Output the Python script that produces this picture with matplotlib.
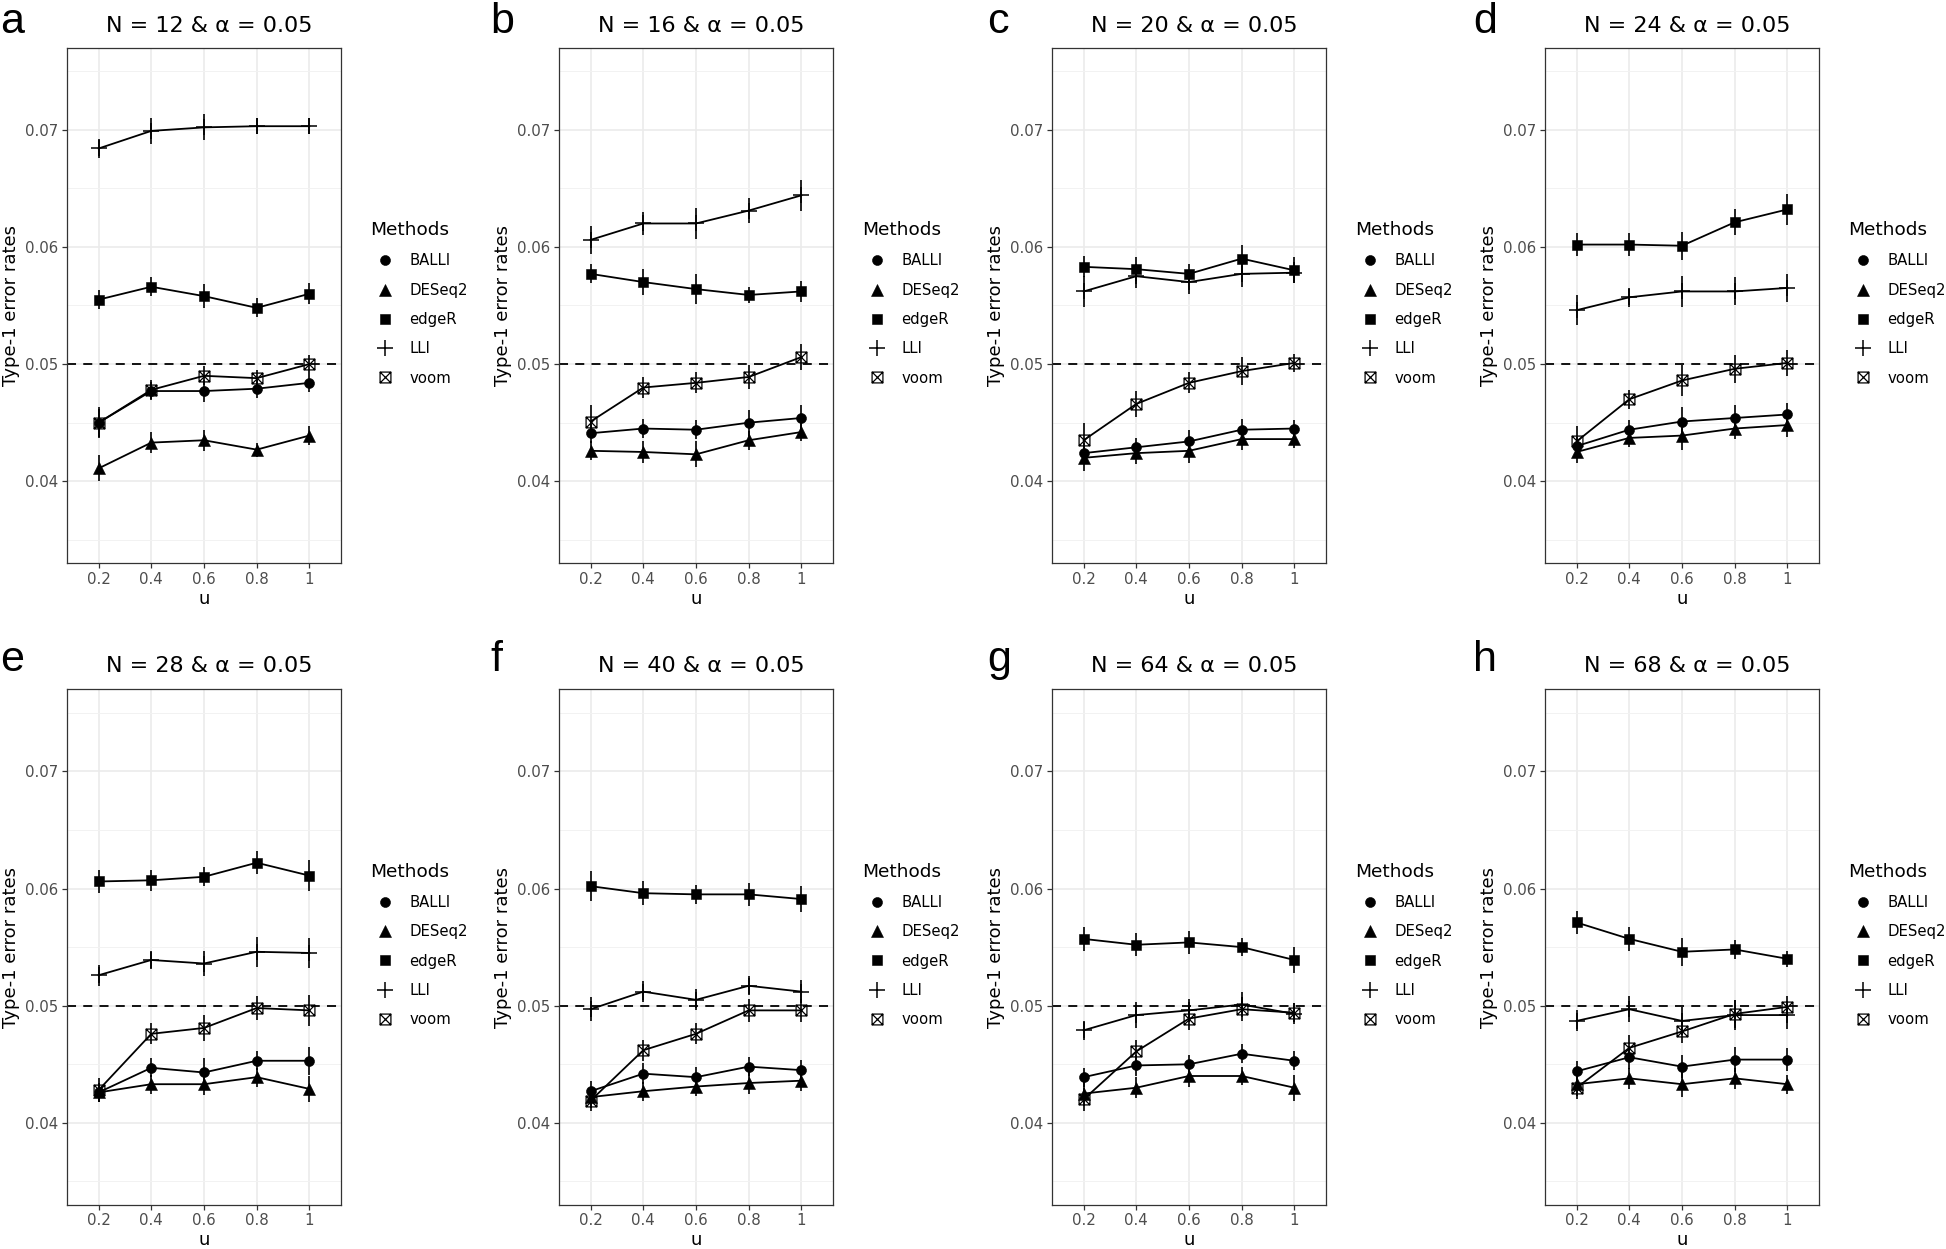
import matplotlib
matplotlib.use('Agg')
import matplotlib.pyplot as plt
from matplotlib.lines import Line2D
from matplotlib.path import Path

plt.rcParams['font.family'] = ['DejaVu Sans']

# ---------------- data ----------------
u_values = [0.2, 0.4, 0.6, 0.8, 1.0]
u_labels = ["0.2", "0.4", "0.6", "0.8", "1"]
sample_sizes = [12, 16, 20, 24, 28, 40, 64, 68]
panel_letters = ["a", "b", "c", "d", "e", "f", "g", "h"]
alpha_level = 0.05
methods = ["BALLI", "DESeq2", "edgeR", "LLI", "voom"]

balli = [
    [0.0450, 0.0477, 0.0477, 0.0479, 0.0484],
    [0.0441, 0.0445, 0.0444, 0.0450, 0.0454],
    [0.0424, 0.0429, 0.0434, 0.0444, 0.0445],
    [0.0430, 0.0444, 0.0451, 0.0454, 0.0457],
    [0.0426, 0.0447, 0.0443, 0.0453, 0.0453],
    [0.0427, 0.0442, 0.0439, 0.0448, 0.0445],
    [0.0439, 0.0449, 0.0450, 0.0459, 0.0453],
    [0.0444, 0.0456, 0.0448, 0.0454, 0.0454],
]
deseq2 = [
    [0.0411, 0.0433, 0.0435, 0.0427, 0.0439],
    [0.0426, 0.0425, 0.0423, 0.0435, 0.0442],
    [0.0420, 0.0424, 0.0426, 0.0436, 0.0436],
    [0.0425, 0.0437, 0.0439, 0.0445, 0.0448],
    [0.0426, 0.0433, 0.0433, 0.0439, 0.0429],
    [0.0422, 0.0427, 0.0431, 0.0434, 0.0436],
    [0.0425, 0.0430, 0.0440, 0.0440, 0.0430],
    [0.0433, 0.0438, 0.0433, 0.0438, 0.0433],
]
edger = [
    [0.0555, 0.0566, 0.0558, 0.0548, 0.0560],
    [0.0577, 0.0570, 0.0564, 0.0559, 0.0562],
    [0.0583, 0.0581, 0.0577, 0.0590, 0.0580],
    [0.0602, 0.0602, 0.0601, 0.0621, 0.0632],
    [0.0606, 0.0607, 0.0610, 0.0622, 0.0611],
    [0.0602, 0.0596, 0.0595, 0.0595, 0.0591],
    [0.0557, 0.0552, 0.0554, 0.0550, 0.0539],
    [0.0571, 0.0557, 0.0546, 0.0548, 0.0540],
]
lli = [
    [0.0684, 0.0699, 0.0702, 0.0703, 0.0703],
    [0.0606, 0.0620, 0.0620, 0.0631, 0.0644],
    [0.0562, 0.0575, 0.0570, 0.0577, 0.0578],
    [0.0546, 0.0557, 0.0562, 0.0562, 0.0565],
    [0.0526, 0.0539, 0.0536, 0.0546, 0.0545],
    [0.0497, 0.0512, 0.0505, 0.0517, 0.0512],
    [0.0479, 0.0492, 0.0496, 0.0501, 0.0493],
    [0.0487, 0.0497, 0.0487, 0.0492, 0.0492],
]
voom = [
    [0.0450, 0.0478, 0.0490, 0.0488, 0.0500],
    [0.0451, 0.0480, 0.0484, 0.0489, 0.0506],
    [0.0435, 0.0466, 0.0484, 0.0494, 0.0501],
    [0.0434, 0.0470, 0.0486, 0.0496, 0.0501],
    [0.0428, 0.0476, 0.0481, 0.0498, 0.0496],
    [0.0419, 0.0462, 0.0476, 0.0496, 0.0496],
    [0.0420, 0.0461, 0.0489, 0.0497, 0.0494],
    [0.0430, 0.0464, 0.0478, 0.0493, 0.0499],
]

# half-widths of the error bars
balli_err = [
    [0.0012, 0.0008, 0.0009, 0.0008, 0.0008],
    [0.0008, 0.0008, 0.0008, 0.0011, 0.0011],
    [0.0009, 0.0008, 0.0010, 0.0009, 0.0007],
    [0.0008, 0.0008, 0.0012, 0.0011, 0.0010],
    [0.0008, 0.0008, 0.0012, 0.0008, 0.0012],
    [0.0009, 0.0009, 0.0009, 0.0008, 0.0009],
    [0.0008, 0.0009, 0.0008, 0.0008, 0.0008],
    [0.0009, 0.0010, 0.0010, 0.0011, 0.0010],
]
deseq2_err = [
    [0.0011, 0.0009, 0.0009, 0.0006, 0.0008],
    [0.0008, 0.0009, 0.0011, 0.0008, 0.0008],
    [0.0011, 0.0009, 0.0010, 0.0009, 0.0008],
    [0.0009, 0.0008, 0.0012, 0.0009, 0.0010],
    [0.0008, 0.0008, 0.0009, 0.0008, 0.0011],
    [0.0009, 0.0008, 0.0008, 0.0009, 0.0009],
    [0.0011, 0.0009, 0.0009, 0.0008, 0.0011],
    [0.0010, 0.0009, 0.0011, 0.0009, 0.0008],
]
edger_err = [
    [0.0008, 0.0008, 0.0010, 0.0008, 0.0009],
    [0.0008, 0.0011, 0.0013, 0.0007, 0.0009],
    [0.0009, 0.0010, 0.0008, 0.0012, 0.0011],
    [0.0010, 0.0010, 0.0012, 0.0011, 0.0013],
    [0.0010, 0.0009, 0.0008, 0.0010, 0.0013],
    [0.0013, 0.0010, 0.0008, 0.0010, 0.0011],
    [0.0010, 0.0010, 0.0010, 0.0008, 0.0011],
    [0.0010, 0.0010, 0.0012, 0.0008, 0.0007],
]
lli_err = [
    [0.0008, 0.0011, 0.0011, 0.0007, 0.0007],
    [0.0012, 0.0010, 0.0013, 0.0011, 0.0013],
    [0.0013, 0.0010, 0.0010, 0.0011, 0.0009],
    [0.0013, 0.0008, 0.0013, 0.0012, 0.0012],
    [0.0009, 0.0008, 0.0011, 0.0013, 0.0013],
    [0.0010, 0.0009, 0.0009, 0.0008, 0.0010],
    [0.0008, 0.0011, 0.0010, 0.0011, 0.0009],
    [0.0009, 0.0011, 0.0012, 0.0013, 0.0012],
]
voom_err = [
    [0.0013, 0.0008, 0.0008, 0.0007, 0.0008],
    [0.0014, 0.0009, 0.0009, 0.0010, 0.0011],
    [0.0015, 0.0011, 0.0009, 0.0012, 0.0008],
    [0.0013, 0.0008, 0.0013, 0.0012, 0.0011],
    [0.0010, 0.0009, 0.0011, 0.0010, 0.0013],
    [0.0009, 0.0009, 0.0009, 0.0010, 0.0010],
    [0.0010, 0.0010, 0.0010, 0.0010, 0.0008],
    [0.0010, 0.0011, 0.0010, 0.0012, 0.0009],
]

y_major = [0.04, 0.05, 0.06, 0.07]
y_major_labels = ["0.04", "0.05", "0.06", "0.07"]
y_minor = [0.035, 0.045, 0.055, 0.065, 0.075]

# ---------------- styles ----------------
square_cross = Path(
    [(-1, -1), (1, -1), (1, 1), (-1, 1), (-1, -1),
     (-1, -1), (1, 1), (-1, 1), (1, -1)],
    [Path.MOVETO, Path.LINETO, Path.LINETO, Path.LINETO, Path.CLOSEPOLY,
     Path.MOVETO, Path.LINETO, Path.MOVETO, Path.LINETO])

marker_style = {
    "BALLI": dict(marker='o', markersize=7.2, markerfacecolor='black', markeredgecolor='black', markeredgewidth=0.4),
    "DESeq2": dict(marker='^', markersize=8.6, markerfacecolor='black', markeredgecolor='black', markeredgewidth=0.4),
    "edgeR": dict(marker='s', markersize=7.0, markerfacecolor='black', markeredgecolor='black', markeredgewidth=0.4),
    "LLI": dict(marker='+', markersize=11.5, markerfacecolor='black', markeredgecolor='black', markeredgewidth=1.1),
    "voom": dict(marker=square_cross, markersize=7.8, markerfacecolor='none', markeredgecolor='black', markeredgewidth=0.9),
}
series = {"BALLI": (balli, balli_err), "DESeq2": (deseq2, deseq2_err),
          "edgeR": (edger, edger_err), "LLI": (lli, lli_err), "voom": (voom, voom_err)}

W, H = 1946, 1249
fig = plt.figure(figsize=(W / 100, H / 100), dpi=100)
fig.patch.set_facecolor('white')

col_left = [67, 559, 1052, 1545]
row_top = [47.7, 689.3]
ax_w, ax_h = 274, 515.6
letter_x = [0, 490, 987, 1473]
letter_base = [33, 671]
title_base = [32, 672]

for k, N in enumerate(sample_sizes):
    r, c = divmod(k, 4)
    ax = fig.add_axes([col_left[c] / W, 1 - (row_top[r] + ax_h) / H, ax_w / W, ax_h / H])
    ax.set_facecolor('white')

    ax.axhline(alpha_level, color='black', linestyle=(0, (5, 4)), linewidth=1.3, zorder=2)
    for m in methods:
        vals, errs = series[m]
        ax.plot(u_values, vals[k], color='black', linewidth=1.3, zorder=3)
        ax.errorbar(u_values, vals[k], yerr=errs[k], fmt='none', ecolor='black',
                    elinewidth=1.2, capsize=0, zorder=4)
        ax.plot(u_values, vals[k], linestyle='none', zorder=5, **marker_style[m])

    ax.set_xlim(0.08, 1.12)
    ax.set_ylim(0.033, 0.077)
    ax.set_xticks(u_values)
    ax.set_xticklabels(u_labels)
    ax.set_yticks(y_major)
    ax.set_yticklabels(y_major_labels)
    ax.set_yticks(y_minor, minor=True)
    ax.grid(True, which='major', color='#EBEBEB', linewidth=1.2, zorder=0)
    ax.grid(True, which='minor', axis='y', color='#F2F2F2', linewidth=0.7, zorder=0)
    ax.set_axisbelow(True)
    ax.tick_params(axis='both', which='major', direction='out', length=3.6, width=0.9,
                   color='#333333', labelcolor='#4D4D4D', labelsize=10.8, pad=2.5)
    ax.tick_params(axis='both', which='minor', length=0)
    for sp in ax.spines.values():
        sp.set_color('#333333')
        sp.set_linewidth(0.9)

    ax.set_xlabel('u', fontsize=13, labelpad=2)
    ax.set_ylabel('Type-1 error rates', fontsize=13, labelpad=4)

    fig.text((col_left[c] + ax_w / 2 + 5) / W, 1 - title_base[r] / H,
             f"N = {N} & α = {alpha_level}", ha='center', va='baseline', fontsize=16)
    fig.text(letter_x[c] / W, 1 - letter_base[r] / H, panel_letters[k],
             ha='left', va='baseline', fontsize=31, family=['Liberation Sans', 'DejaVu Sans'])

    handles = [Line2D([], [], linestyle='none', **marker_style[m]) for m in methods]
    ax.legend(handles, methods, title='Methods', loc='upper left',
              bbox_to_anchor=(1 + 29 / ax_w, 1 - 173.5 / ax_h),
              frameon=False, fontsize=10.7, title_fontsize=13.3,
              handlelength=1.97, handletextpad=0.68, labelspacing=0.96,
              borderpad=0, borderaxespad=0, alignment='left')

fig.savefig('out.png', dpi=100, facecolor='white')
